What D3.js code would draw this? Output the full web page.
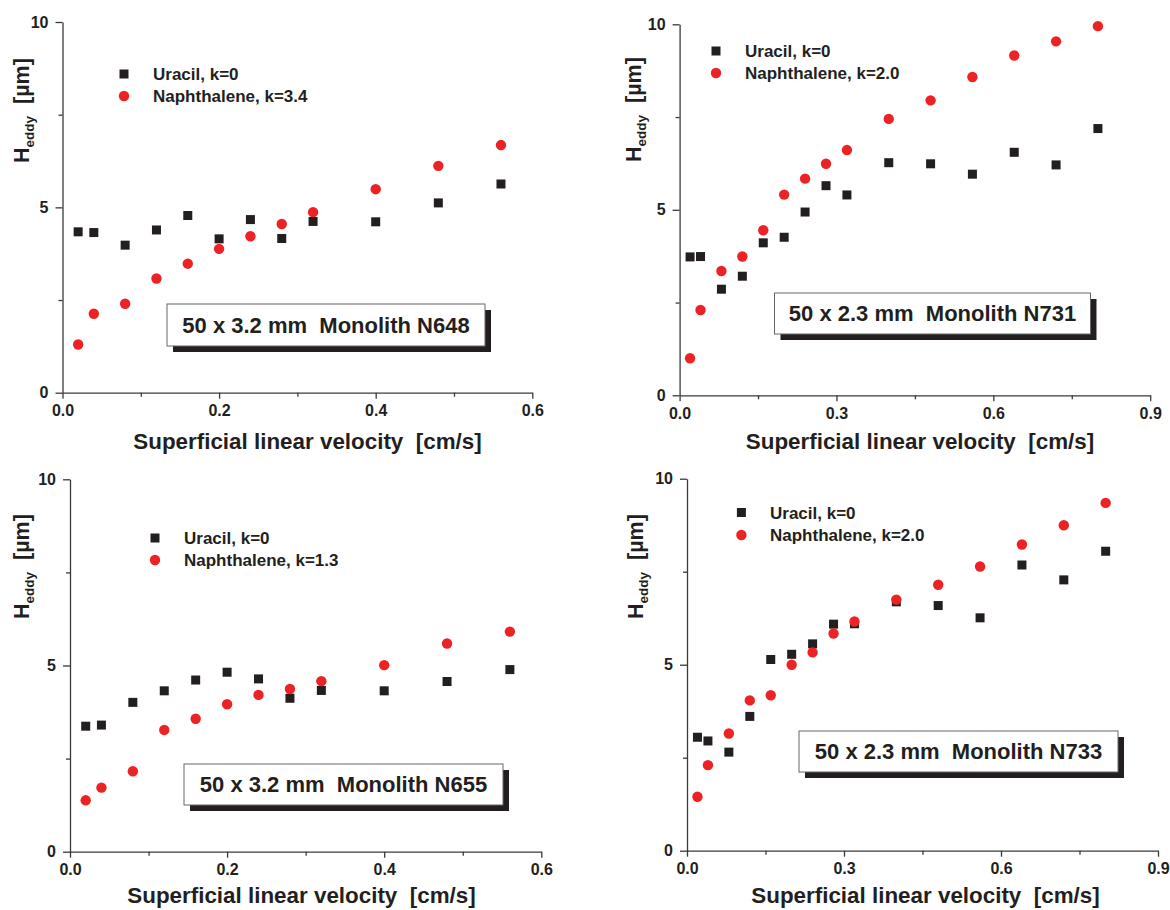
<!DOCTYPE html>
<html><head><meta charset="utf-8">
<script src="https://cdn.jsdelivr.net/npm/d3@7"></script>
<style>
body{margin:0;background:#fff}
text{font-family:"Liberation Sans",Arial,sans-serif;font-weight:bold;fill:#231f20}
</style>
</head><body><svg id="chart" width="1170" height="910"></svg>
<script>
// ---- data ----
const velocityShort = [0.02,0.04,0.08,0.12,0.16,0.20,0.24,0.28,0.32,0.40,0.48,0.56];
const velocityLong  = [0.02,0.04,0.08,0.12,0.16,0.20,0.24,0.28,0.32,0.40,0.48,0.56,0.64,0.72,0.80];

const uracilN648      = [4.34,4.32,3.98,4.39,4.78,4.15,4.67,4.16,4.62,4.61,5.12,5.63];
const naphthaleneN648 = [1.30,2.13,2.40,3.08,3.48,3.88,4.22,4.55,4.87,5.49,6.12,6.68];

const uracilN731      = [3.73,3.74,2.86,3.21,4.11,4.26,4.94,5.65,5.40,6.27,6.24,5.96,6.55,6.21,7.19];
const naphthaleneN731 = [1.00,2.30,3.35,3.74,4.45,5.41,5.84,6.24,6.61,7.45,7.95,8.58,9.16,9.54,9.95];

const uracilN655      = [3.37,3.40,4.01,4.32,4.61,4.82,4.64,4.12,4.33,4.32,4.57,4.89];
const naphthaleneN655 = [1.38,1.72,2.16,3.27,3.57,3.96,4.21,4.37,4.58,5.01,5.59,5.91];

const uracilN733      = [3.05,2.95,2.65,3.61,5.14,5.28,5.56,6.09,6.10,6.69,6.59,6.26,7.68,7.28,8.05];
const naphthaleneN733 = [1.45,2.30,3.15,4.04,4.18,5.00,5.33,5.84,6.16,6.75,7.15,7.64,8.23,8.75,9.35];

const legendN648 = ["Uracil, k=0", "Naphthalene, k=3.4"];
const legendN731 = ["Uracil, k=0", "Naphthalene, k=2.0"];
const legendN655 = ["Uracil, k=0", "Naphthalene, k=1.3"];
const legendN733 = ["Uracil, k=0", "Naphthalene, k=2.0"];

const columnLabels = ["50 x 3.2 mm  Monolith N648", "50 x 2.3 mm  Monolith N731",
                      "50 x 3.2 mm  Monolith N655", "50 x 2.3 mm  Monolith N733"];

const xTicksShort = [0, 0.2, 0.4, 0.6];
const xMinorShort = [0.1, 0.3, 0.5];
const xTicksLong  = [0, 0.3, 0.6, 0.9];
const xMinorLong  = [0.15, 0.45, 0.75];
const yTicks = [0, 5, 10];
const yMinor = [2.5, 7.5];

const xTitle = "Superficial linear velocity  [cm/s]";
const yTitleMain = "H", yTitleSub = "eddy", yTitleUnit = "  [µm]";

// ---- layout ----
const panels = [
  {vel: velocityShort, u: uracilN648, n: naphthaleneN648, leg: legendN648, label: columnLabels[0],
   xt: xTicksShort, xm: xMinorShort, xmax: 0.6,
   x0: 62.5, x1: 532.3, yb: 392.7, yt: 22,
   lm: 124, ly1: 74, ly2: 96, ltx: 153,
   bx: 167, by: 304, bw: 318, bh: 42,
   tcx: 307.5, tby: 449, ytx: 28.5, yty: 163},
  {vel: velocityLong, u: uracilN731, n: naphthaleneN731, leg: legendN731, label: columnLabels[1],
   xt: xTicksLong, xm: xMinorLong, xmax: 0.9,
   x0: 679.6, x1: 1150.2, yb: 395.3, yt: 24.3,
   lm: 716, ly1: 51, ly2: 73, ltx: 745,
   bx: 774.5, by: 293, bw: 316, bh: 41,
   tcx: 920, tby: 449, ytx: 641, yty: 162},
  {vel: velocityShort, u: uracilN655, n: naphthaleneN655, leg: legendN655, label: columnLabels[2],
   xt: xTicksShort, xm: xMinorShort, xmax: 0.6,
   x0: 70, x1: 541.3, yb: 851.7, yt: 479.3,
   lm: 155, ly1: 538, ly2: 560, ltx: 184,
   bx: 184, by: 764, bw: 319, bh: 41,
   tcx: 301.5, tby: 903, ytx: 28.7, yty: 619},
  {vel: velocityLong, u: uracilN733, n: naphthaleneN733, leg: legendN733, label: columnLabels[3],
   xt: xTicksLong, xm: xMinorLong, xmax: 0.9,
   x0: 687, x1: 1158, yb: 850.7, yt: 478.7,
   lm: 741.4, ly1: 512.5, ly2: 535, ltx: 770,
   bx: 799, by: 731, bw: 319, bh: 41,
   tcx: 925.5, tby: 903, ytx: 643, yty: 619}
];

const BLACK = "#231f20", RED = "#ed2224", AXIS = "#3a3a3a";
const svg = d3.select("#chart");
const sq = 9, cr = 5.2;

panels.forEach(p => {
  const g = svg.append("g");
  const x = d3.scaleLinear().domain([0, p.xmax]).range([p.x0, p.x1]);
  const y = d3.scaleLinear().domain([0, 10]).range([p.yb, p.yt]);

  // axes
  const xAx = g.append("g").attr("transform", `translate(0,${p.yb})`)
    .call(d3.axisBottom(x).tickValues(p.xt).tickSize(6).tickSizeOuter(0).tickPadding(6).tickFormat(d3.format(".1f")));
  g.append("g").attr("transform", `translate(0,${p.yb})`)
    .call(d3.axisBottom(x).tickValues(p.xm).tickSize(4).tickSizeOuter(0).tickFormat(""))
    .select(".domain").remove();
  const yAx = g.append("g").attr("transform", `translate(${p.x0},0)`)
    .call(d3.axisLeft(y).tickValues(yTicks).tickSize(7).tickSizeOuter(0).tickPadding(7).tickFormat(d3.format("d")));
  g.append("g").attr("transform", `translate(${p.x0},0)`)
    .call(d3.axisLeft(y).tickValues(yMinor).tickSize(4).tickSizeOuter(0).tickFormat(""))
    .select(".domain").remove();
  g.selectAll(".domain, .tick line").attr("stroke", AXIS).attr("stroke-width", 1.3);
  g.selectAll(".tick text").attr("font-size", 16).attr("font-family", "Liberation Sans, Arial, sans-serif")
    .attr("font-weight", "bold").attr("fill", BLACK);

  // titles
  g.append("text").attr("x", p.tcx).attr("y", p.tby).attr("text-anchor", "middle")
    .attr("font-size", 22.4).style("white-space", "pre").text(xTitle);
  const yt = g.append("text").attr("transform", `translate(${p.ytx},${p.yty}) rotate(-90)`)
    .attr("font-size", 21.5).style("white-space", "pre");
  yt.append("tspan").text(yTitleMain);
  yt.append("tspan").attr("font-size", 13.5).attr("dy", 5).text(yTitleSub);
  yt.append("tspan").attr("dy", -5).text(yTitleUnit);

  // data
  const pts = p.vel.map((v, i) => ({v, u: p.u[i], n: p.n[i]}));
  g.append("g").selectAll("rect").data(pts).join("rect")
    .attr("x", d => x(d.v) - sq/2).attr("y", d => y(d.u) - sq/2)
    .attr("width", sq).attr("height", sq).attr("fill", BLACK);
  g.append("g").selectAll("circle").data(pts).join("circle")
    .attr("cx", d => x(d.v)).attr("cy", d => y(d.n)).attr("r", cr).attr("fill", RED);

  // legend
  g.append("rect").attr("x", p.lm - sq/2).attr("y", p.ly1 - sq/2).attr("width", sq).attr("height", sq).attr("fill", BLACK);
  g.append("circle").attr("cx", p.lm).attr("cy", p.ly2).attr("r", cr).attr("fill", RED);
  g.append("text").attr("x", p.ltx).attr("y", p.ly1).attr("dy", "0.36em").attr("font-size", 17).text(p.leg[0]);
  g.append("text").attr("x", p.ltx).attr("y", p.ly2).attr("dy", "0.36em").attr("font-size", 17).text(p.leg[1]);

  // label box with shadow
  g.append("rect").attr("x", p.bx + 6).attr("y", p.by + 6).attr("width", p.bw).attr("height", p.bh).attr("fill", "#231f20");
  g.append("rect").attr("x", p.bx).attr("y", p.by).attr("width", p.bw).attr("height", p.bh)
    .attr("fill", "#fff").attr("stroke", "#666").attr("stroke-width", 1);
  g.append("text").attr("x", p.bx + p.bw/2).attr("y", p.by + p.bh/2).attr("dy", "0.36em")
    .attr("text-anchor", "middle").attr("font-size", 22).style("white-space", "pre").text(p.label);
});
</script></body></html>
